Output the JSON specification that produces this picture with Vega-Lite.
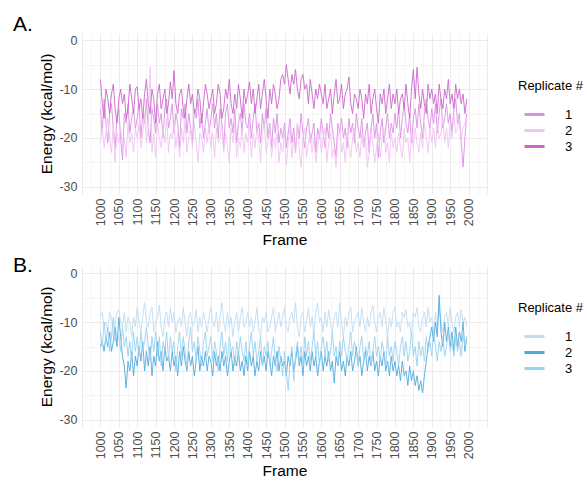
{
"$schema":"https://vega.github.io/schema/vega-lite/v6.json",
"padding":{"left":12,"top":14,"right":0,"bottom":0},
"spacing":6,
"config":{"view":{"stroke":null},"font":"Liberation Sans",
"axis":{"domain":false,"ticks":false,"gridColor":"#EBEBEB","labelColor":"#4D4D4D","labelFontSize":12.5,"titleFontSize":15.5,"titleFontWeight":"normal","titleColor":"black","labelFont":"Liberation Sans","titleFont":"Liberation Sans"},
"legend":{"titleFontSize":13,"titleFontWeight":"normal","titleColor":"black","labelFontSize":13,"labelColor":"black","symbolType":"M-1.5,0H1.5","symbolStrokeWidth":3,"symbolSize":178,"labelOffset":22,"symbolOffset":8,"titlePadding":13,"rowPadding":0,"padding":0,"symbolOpacity":1},
"title":{"fontSize":21,"fontWeight":"normal","color":"black","anchor":"start","frame":"bounds","baseline":"alphabetic","font":"Liberation Sans"}},
"data":{"values":[
{"f":1000,"a1":-14,"a2":-21,"a3":-8,"b1":-9,"b2":-15,"b3":-12},
{"f":1005,"a1":-19,"a2":-18,"a3":-13,"b1":-8,"b2":-14,"b3":-15},
{"f":1010,"a1":-12,"a2":-22,"a3":-16,"b1":-11,"b2":-16,"b3":-10},
{"f":1015,"a1":-17,"a2":-19,"a3":-10,"b1":-10,"b2":-13,"b3":-14},
{"f":1020,"a1":-21,"a2":-16,"a3":-12,"b1":-12,"b2":-15,"b3":-11},
{"f":1025,"a1":-15,"a2":-20,"a3":-15,"b1":-8,"b2":-12,"b3":-16},
{"f":1030,"a1":-13,"a2":-23,"a3":-11,"b1":-9,"b2":-16,"b3":-13},
{"f":1035,"a1":-18,"a2":-17,"a3":-9,"b1":-13,"b2":-14,"b3":-9},
{"f":1040,"a1":-22,"a2":-25,"a3":-14,"b1":-10,"b2":-11,"b3":-14},
{"f":1045,"a1":-16,"a2":-19,"a3":-17,"b1":-8,"b2":-15,"b3":-12},
{"f":1050,"a1":-14,"a2":-21,"a3":-12,"b1":-7.5,"b2":-9,"b3":-13},
{"f":1055,"a1":-20,"a2":-18,"a3":-10,"b1":-10,"b2":-13,"b3":-16},
{"f":1060,"a1":-24.5,"a2":-22,"a3":-13,"b1":-11,"b2":-17,"b3":-11},
{"f":1065,"a1":-15,"a2":-20,"a3":-11,"b1":-8,"b2":-19,"b3":-15},
{"f":1070,"a1":-17,"a2":-24,"a3":-16,"b1":-12,"b2":-23.5,"b3":-13},
{"f":1075,"a1":-13,"a2":-17,"a3":-14,"b1":-9,"b2":-18,"b3":-17},
{"f":1080,"a1":-19,"a2":-21,"a3":-9,"b1":-10,"b2":-20,"b3":-14},
{"f":1085,"a1":-16,"a2":-19,"a3":-12,"b1":-13,"b2":-16,"b3":-18},
{"f":1090,"a1":-14,"a2":-23,"a3":-15,"b1":-9,"b2":-21,"b3":-12},
{"f":1095,"a1":-18,"a2":-18,"a3":-10,"b1":-11,"b2":-17,"b3":-16},
{"f":1100,"a1":-16,"a2":-20,"a3":-9.5,"b1":-7,"b2":-19,"b3":-13},
{"f":1105,"a1":-13,"a2":-17,"a3":-14,"b1":-10,"b2":-15,"b3":-17},
{"f":1110,"a1":-20,"a2":-22,"a3":-12,"b1":-12,"b2":-18,"b3":-12},
{"f":1115,"a1":-15,"a2":-19,"a3":-16,"b1":-9,"b2":-14,"b3":-16},
{"f":1120,"a1":-17,"a2":-15,"a3":-11,"b1":-6,"b2":-20,"b3":-14},
{"f":1125,"a1":-12,"a2":-21,"a3":-8,"b1":-10,"b2":-16,"b3":-11},
{"f":1130,"a1":-18,"a2":-18,"a3":-13,"b1":-11,"b2":-19,"b3":-15},
{"f":1135,"a1":-21,"a2":-5.5,"a3":-15,"b1":-8,"b2":-15,"b3":-18},
{"f":1140,"a1":-14,"a2":-23,"a3":-10,"b1":-7,"b2":-21,"b3":-13},
{"f":1145,"a1":-16,"a2":-19,"a3":-12,"b1":-12,"b2":-17,"b3":-16},
{"f":1150,"a1":-19,"a2":-24,"a3":-17,"b1":-10,"b2":-19,"b3":-12},
{"f":1155,"a1":-13,"a2":-17,"a3":-11,"b1":-9,"b2":-14,"b3":-17},
{"f":1160,"a1":-17,"a2":-20,"a3":-9,"b1":-6.5,"b2":-18,"b3":-13},
{"f":1165,"a1":-15,"a2":-22,"a3":-14,"b1":-11,"b2":-16,"b3":-19},
{"f":1170,"a1":-20,"a2":-18,"a3":-12,"b1":-13,"b2":-20,"b3":-14},
{"f":1175,"a1":-14,"a2":-21,"a3":-10,"b1":-9,"b2":-15,"b3":-16},
{"f":1180,"a1":-12,"a2":-16,"a3":-15,"b1":-8,"b2":-18,"b3":-12},
{"f":1185,"a1":-18,"a2":-23,"a3":-13,"b1":-11,"b2":-17,"b3":-18},
{"f":1190,"a1":-16,"a2":-19,"a3":-8.5,"b1":-7,"b2":-20,"b3":-13},
{"f":1195,"a1":-13,"a2":-20,"a3":-12,"b1":-10,"b2":-16,"b3":-16},
{"f":1200,"a1":-19,"a2":-17,"a3":-6.2,"b1":-8,"b2":-19,"b3":-14},
{"f":1205,"a1":-15,"a2":-22,"a3":-13,"b1":-12,"b2":-17,"b3":-20},
{"f":1210,"a1":-17,"a2":-19,"a3":-15,"b1":-10,"b2":-21,"b3":-15},
{"f":1215,"a1":-22,"a2":-24,"a3":-11,"b1":-9,"b2":-16,"b3":-12},
{"f":1220,"a1":-14,"a2":-18,"a3":-10,"b1":-11,"b2":-19,"b3":-17},
{"f":1225,"a1":-16,"a2":-21,"a3":-14,"b1":-7,"b2":-15,"b3":-13},
{"f":1230,"a1":-13,"a2":-16,"a3":-16,"b1":-10,"b2":-18,"b3":-16},
{"f":1235,"a1":-19,"a2":-23,"a3":-12,"b1":-13,"b2":-20,"b3":-19},
{"f":1240,"a1":-15,"a2":-20,"a3":-9,"b1":-9,"b2":-16,"b3":-14},
{"f":1245,"a1":-18,"a2":-18,"a3":-13,"b1":-8,"b2":-19,"b3":-11},
{"f":1250,"a1":-21,"a2":-22,"a3":-11,"b1":-11,"b2":-17,"b3":-16},
{"f":1255,"a1":-14,"a2":-17,"a3":-15,"b1":-10,"b2":-21,"b3":-14},
{"f":1260,"a1":-16,"a2":-21,"a3":-14,"b1":-7.5,"b2":-18,"b3":-18},
{"f":1265,"a1":-12,"a2":-25,"a3":-10,"b1":-12,"b2":-15,"b3":-13},
{"f":1270,"a1":-18,"a2":-19,"a3":-12,"b1":-9,"b2":-20,"b3":-16},
{"f":1275,"a1":-15,"a2":-20,"a3":-17,"b1":-11,"b2":-17,"b3":-19},
{"f":1280,"a1":-20,"a2":-23,"a3":-13,"b1":-8,"b2":-19,"b3":-14},
{"f":1285,"a1":-17,"a2":-18,"a3":-9,"b1":-10,"b2":-16,"b3":-12},
{"f":1290,"a1":-14,"a2":-21,"a3":-11,"b1":-12,"b2":-20,"b3":-17},
{"f":1295,"a1":-19,"a2":-17,"a3":-14,"b1":-9,"b2":-17,"b3":-15},
{"f":1300,"a1":-16,"a2":-22,"a3":-12,"b1":-7,"b2":-18,"b3":-13},
{"f":1305,"a1":-13,"a2":-19,"a3":-10,"b1":-10,"b2":-21,"b3":-18},
{"f":1310,"a1":-18,"a2":-24,"a3":-15,"b1":-11,"b2":-16,"b3":-14},
{"f":1315,"a1":-15,"a2":-18,"a3":-13,"b1":-8,"b2":-19,"b3":-16},
{"f":1320,"a1":-20,"a2":-21,"a3":-9,"b1":-12,"b2":-17,"b3":-20},
{"f":1325,"a1":-14,"a2":-20,"a3":-11,"b1":-9,"b2":-20,"b3":-15},
{"f":1330,"a1":-17,"a2":-17,"a3":-16,"b1":-6,"b2":-16,"b3":-12},
{"f":1335,"a1":-22,"a2":-23,"a3":-14,"b1":-10,"b2":-19,"b3":-17},
{"f":1340,"a1":-15,"a2":-19,"a3":-10,"b1":-12,"b2":-17,"b3":-14},
{"f":1345,"a1":-13,"a2":-22,"a3":-12,"b1":-8,"b2":-21,"b3":-18},
{"f":1350,"a1":-18,"a2":-25,"a3":-8,"b1":-11,"b2":-18,"b3":-13},
{"f":1355,"a1":-16,"a2":-18,"a3":-13,"b1":-9,"b2":-16,"b3":-16},
{"f":1360,"a1":-19,"a2":-21,"a3":-15,"b1":-13,"b2":-20,"b3":-15},
{"f":1365,"a1":-14,"a2":-17,"a3":-11,"b1":-10,"b2":-17,"b3":-19},
{"f":1370,"a1":-21,"a2":-24,"a3":-14,"b1":-8,"b2":-19,"b3":-14},
{"f":1375,"a1":-17,"a2":-20,"a3":-9,"b1":-12,"b2":-16,"b3":-17},
{"f":1380,"a1":-15,"a2":-22,"a3":-12,"b1":-9,"b2":-20,"b3":-13},
{"f":1385,"a1":-19,"a2":-18,"a3":-16,"b1":-7,"b2":-18,"b3":-16},
{"f":1390,"a1":-13,"a2":-23,"a3":-10,"b1":-11,"b2":-21,"b3":-18},
{"f":1395,"a1":-17,"a2":-19,"a3":-13,"b1":-10,"b2":-17,"b3":-14},
{"f":1400,"a1":-18,"a2":-21,"a3":-11,"b1":-8,"b2":-20,"b3":-19},
{"f":1405,"a1":-15,"a2":-17,"a3":-8.5,"b1":-11,"b2":-16,"b3":-15},
{"f":1410,"a1":-20,"a2":-24,"a3":-13,"b1":-9,"b2":-19,"b3":-12},
{"f":1415,"a1":-16,"a2":-19,"a3":-10,"b1":-12,"b2":-17,"b3":-17},
{"f":1420,"a1":-13,"a2":-22,"a3":-15,"b1":-10,"b2":-21,"b3":-14},
{"f":1425,"a1":-19,"a2":-18,"a3":-12,"b1":-7,"b2":-18,"b3":-18},
{"f":1430,"a1":-17,"a2":-20,"a3":-9,"b1":-11,"b2":-20,"b3":-16},
{"f":1435,"a1":-21,"a2":-25,"a3":-14,"b1":-13,"b2":-16,"b3":-13},
{"f":1440,"a1":-15,"a2":-19,"a3":-11,"b1":-9,"b2":-19,"b3":-19},
{"f":1445,"a1":-18,"a2":-17,"a3":-8,"b1":-10,"b2":-17,"b3":-15},
{"f":1450,"a1":-14,"a2":-23,"a3":-12,"b1":-8,"b2":-20,"b3":-17},
{"f":1455,"a1":-20,"a2":-21,"a3":-16,"b1":-12,"b2":-16,"b3":-14},
{"f":1460,"a1":-17,"a2":-18,"a3":-10,"b1":-11,"b2":-18,"b3":-19},
{"f":1465,"a1":-22,"a2":-24,"a3":-13,"b1":-9,"b2":-21,"b3":-16},
{"f":1470,"a1":-16,"a2":-20,"a3":-9,"b1":-7,"b2":-17,"b3":-13},
{"f":1475,"a1":-19,"a2":-22,"a3":-11,"b1":-12,"b2":-19,"b3":-18},
{"f":1480,"a1":-15,"a2":-19,"a3":-14,"b1":-10,"b2":-16,"b3":-20},
{"f":1485,"a1":-21,"a2":-25,"a3":-12,"b1":-8,"b2":-20,"b3":-15},
{"f":1490,"a1":-18,"a2":-21,"a3":-8,"b1":-11,"b2":-17,"b3":-18},
{"f":1495,"a1":-20,"a2":-23,"a3":-7,"b1":-9,"b2":-19,"b3":-21},
{"f":1500,"a1":-17,"a2":-19,"a3":-9,"b1":-7,"b2":-18,"b3":-16},
{"f":1505,"a1":-22,"a2":-25.5,"a3":-5,"b1":-11,"b2":-21,"b3":-20},
{"f":1510,"a1":-19,"a2":-21,"a3":-8,"b1":-12,"b2":-17,"b3":-24},
{"f":1515,"a1":-16,"a2":-18,"a3":-11,"b1":-9,"b2":-19,"b3":-18},
{"f":1520,"a1":-21,"a2":-24,"a3":-7,"b1":-8,"b2":-16,"b3":-15},
{"f":1525,"a1":-18,"a2":-20,"a3":-9,"b1":-10,"b2":-20,"b3":-22},
{"f":1530,"a1":-23,"a2":-23,"a3":-6,"b1":-6,"b2":-18,"b3":-17},
{"f":1535,"a1":-17,"a2":-17,"a3":-10,"b1":-11,"b2":-15,"b3":-14},
{"f":1540,"a1":-20,"a2":-22,"a3":-12,"b1":-13,"b2":-19,"b3":-18},
{"f":1545,"a1":-15,"a2":-26,"a3":-8,"b1":-9,"b2":-17,"b3":-15},
{"f":1550,"a1":-19,"a2":-20,"a3":-7,"b1":-8,"b2":-21,"b3":-19},
{"f":1555,"a1":-22,"a2":-18,"a3":-10,"b1":-12,"b2":-16,"b3":-13},
{"f":1560,"a1":-18,"a2":-24,"a3":-9,"b1":-10,"b2":-19,"b3":-17},
{"f":1565,"a1":-16,"a2":-21,"a3":-13,"b1":-7,"b2":-17,"b3":-14},
{"f":1570,"a1":-21,"a2":-19,"a3":-8,"b1":-11,"b2":-20,"b3":-18},
{"f":1575,"a1":-19,"a2":-23,"a3":-11,"b1":-9,"b2":-16,"b3":-15},
{"f":1580,"a1":-17,"a2":-20,"a3":-14,"b1":-12,"b2":-19,"b3":-12},
{"f":1585,"a1":-23,"a2":-25,"a3":-10,"b1":-8,"b2":-17,"b3":-17},
{"f":1590,"a1":-18,"a2":-22,"a3":-12,"b1":-6,"b2":-21,"b3":-14},
{"f":1595,"a1":-20,"a2":-19,"a3":-9,"b1":-10,"b2":-18,"b3":-19},
{"f":1600,"a1":-16,"a2":-23,"a3":-11,"b1":-9,"b2":-16,"b3":-15},
{"f":1605,"a1":-19,"a2":-20,"a3":-13,"b1":-12,"b2":-20,"b3":-13},
{"f":1610,"a1":-22,"a2":-18,"a3":-9,"b1":-8,"b2":-17,"b3":-17},
{"f":1615,"a1":-17,"a2":-25,"a3":-14,"b1":-11,"b2":-19,"b3":-14},
{"f":1620,"a1":-20,"a2":-21,"a3":-12,"b1":-7.5,"b2":-16,"b3":-18},
{"f":1625,"a1":-15,"a2":-19,"a3":-10,"b1":-10,"b2":-20,"b3":-16},
{"f":1630,"a1":-18,"a2":-24,"a3":-15,"b1":-12,"b2":-18,"b3":-12},
{"f":1635,"a1":-21,"a2":-22,"a3":-11,"b1":-9,"b2":-22.5,"b3":-17},
{"f":1640,"a1":-24,"a2":-26,"a3":-8,"b1":-8,"b2":-17,"b3":-15},
{"f":1645,"a1":-17,"a2":-20,"a3":-13,"b1":-11,"b2":-19,"b3":-19},
{"f":1650,"a1":-19,"a2":-18,"a3":-12,"b1":-6,"b2":-16,"b3":-14},
{"f":1655,"a1":-16,"a2":-23,"a3":-9,"b1":-10,"b2":-20,"b3":-17},
{"f":1660,"a1":-20,"a2":-21,"a3":-14,"b1":-13,"b2":-18,"b3":-13},
{"f":1665,"a1":-18,"a2":-25,"a3":-11,"b1":-9,"b2":-21,"b3":-16},
{"f":1670,"a1":-22,"a2":-19,"a3":-10,"b1":-11,"b2":-17,"b3":-18},
{"f":1675,"a1":-16,"a2":-22,"a3":-7.5,"b1":-8,"b2":-19,"b3":-15},
{"f":1680,"a1":-19,"a2":-24,"a3":-13,"b1":-7,"b2":-16,"b3":-12},
{"f":1685,"a1":-17,"a2":-20,"a3":-15,"b1":-12,"b2":-20,"b3":-17},
{"f":1690,"a1":-21,"a2":-18,"a3":-11,"b1":-10,"b2":-18,"b3":-14},
{"f":1695,"a1":-15,"a2":-23,"a3":-12,"b1":-9,"b2":-15,"b3":-16},
{"f":1700,"a1":-18,"a2":-21,"a3":-14,"b1":-8,"b2":-19,"b3":-19},
{"f":1705,"a1":-20,"a2":-24,"a3":-10,"b1":-11,"b2":-17,"b3":-15},
{"f":1710,"a1":-16,"a2":-19,"a3":-12,"b1":-7,"b2":-21,"b3":-13},
{"f":1715,"a1":-22,"a2":-22,"a3":-16,"b1":-10,"b2":-18,"b3":-18},
{"f":1720,"a1":-19,"a2":-20,"a3":-11,"b1":-12,"b2":-16,"b3":-15},
{"f":1725,"a1":-17,"a2":-26,"a3":-13,"b1":-9,"b2":-20,"b3":-17},
{"f":1730,"a1":-23,"a2":-23,"a3":-9,"b1":-11,"b2":-17,"b3":-14},
{"f":1735,"a1":-18,"a2":-18,"a3":-15,"b1":-8,"b2":-19,"b3":-19},
{"f":1740,"a1":-15,"a2":-21,"a3":-12,"b1":-6.5,"b2":-16,"b3":-16},
{"f":1745,"a1":-20,"a2":-25,"a3":-10,"b1":-10,"b2":-20,"b3":-13},
{"f":1750,"a1":-17,"a2":-22,"a3":-14,"b1":-12,"b2":-18,"b3":-17},
{"f":1755,"a1":-24,"a2":-19,"a3":-17,"b1":-9,"b2":-21,"b3":-15},
{"f":1760,"a1":-19,"a2":-24,"a3":-11,"b1":-8,"b2":-17,"b3":-18},
{"f":1765,"a1":-16,"a2":-20,"a3":-13,"b1":-11,"b2":-19,"b3":-14},
{"f":1770,"a1":-21,"a2":-18,"a3":-10,"b1":-7,"b2":-16,"b3":-16},
{"f":1775,"a1":-18,"a2":-23,"a3":-15,"b1":-10,"b2":-20,"b3":-19},
{"f":1780,"a1":-15,"a2":-21,"a3":-12,"b1":-13,"b2":-18,"b3":-13},
{"f":1785,"a1":-20,"a2":-25,"a3":-9,"b1":-9,"b2":-21,"b3":-17},
{"f":1790,"a1":-17,"a2":-19,"a3":-14,"b1":-11,"b2":-17,"b3":-15},
{"f":1795,"a1":-19,"a2":-22,"a3":-11,"b1":-8,"b2":-20,"b3":-18},
{"f":1800,"a1":-15,"a2":-20,"a3":-13,"b1":-7,"b2":-18,"b3":-14},
{"f":1805,"a1":-18,"a2":-23,"a3":-10,"b1":-11,"b2":-21,"b3":-16},
{"f":1810,"a1":-14,"a2":-19,"a3":-15,"b1":-10,"b2":-19,"b3":-19},
{"f":1815,"a1":-20,"a2":-22,"a3":-12,"b1":-12,"b2":-22,"b3":-15},
{"f":1820,"a1":-16,"a2":-24,"a3":-11,"b1":-8,"b2":-18,"b3":-13},
{"f":1825,"a1":-13,"a2":-18,"a3":-14,"b1":-9,"b2":-21,"b3":-17},
{"f":1830,"a1":-17,"a2":-21,"a3":-9,"b1":-7.5,"b2":-20,"b3":-14},
{"f":1835,"a1":-19,"a2":-20,"a3":-13,"b1":-11,"b2":-23,"b3":-18},
{"f":1840,"a1":-15,"a2":-25,"a3":-16,"b1":-10,"b2":-19,"b3":-16},
{"f":1845,"a1":-21,"a2":-19,"a3":-10,"b1":-13,"b2":-22,"b3":-12},
{"f":1850,"a1":-16,"a2":-22,"a3":-6,"b1":-8,"b2":-20,"b3":-17},
{"f":1855,"a1":-14,"a2":-18,"a3":-12,"b1":-9,"b2":-23,"b3":-15},
{"f":1860,"a1":-18,"a2":-21,"a3":-5.5,"b1":-7,"b2":-21,"b3":-19},
{"f":1865,"a1":-13,"a2":-23,"a3":-11,"b1":-11,"b2":-24,"b3":-14},
{"f":1870,"a1":-17,"a2":-19,"a3":-14,"b1":-12,"b2":-22,"b3":-17},
{"f":1875,"a1":-20,"a2":-22,"a3":-10,"b1":-9,"b2":-24.5,"b3":-15},
{"f":1880,"a1":-15,"a2":-17,"a3":-13,"b1":-8,"b2":-21,"b3":-18},
{"f":1885,"a1":-12,"a2":-20,"a3":-15,"b1":-11,"b2":-18,"b3":-13},
{"f":1890,"a1":-16,"a2":-23,"a3":-9,"b1":-7,"b2":-15,"b3":-16},
{"f":1895,"a1":-18,"a2":-18,"a3":-12,"b1":-10,"b2":-13,"b3":-14},
{"f":1900,"a1":-14,"a2":-21,"a3":-10,"b1":-9,"b2":-11,"b3":-17},
{"f":1905,"a1":-17,"a2":-18,"a3":-13,"b1":-12,"b2":-14,"b3":-12},
{"f":1910,"a1":-13,"a2":-22,"a3":-11,"b1":-8,"b2":-10,"b3":-15},
{"f":1915,"a1":-19,"a2":-17,"a3":-15,"b1":-11,"b2":-13,"b3":-18},
{"f":1920,"a1":-15,"a2":-20,"a3":-9,"b1":-7,"b2":-4.5,"b3":-14},
{"f":1925,"a1":-12,"a2":-19,"a3":-12,"b1":-10,"b2":-12,"b3":-16},
{"f":1930,"a1":-18,"a2":-16,"a3":-14,"b1":-12,"b2":-15,"b3":-13},
{"f":1935,"a1":-16,"a2":-21,"a3":-10,"b1":-9,"b2":-10,"b3":-17},
{"f":1940,"a1":-13,"a2":-18,"a3":-12,"b1":-8,"b2":-14,"b3":-15},
{"f":1945,"a1":-17,"a2":-22,"a3":-8,"b1":-11,"b2":-11,"b3":-12},
{"f":1950,"a1":-15,"a2":-17,"a3":-13,"b1":-7,"b2":-15,"b3":-16},
{"f":1955,"a1":-19,"a2":-20,"a3":-11,"b1":-10,"b2":-12,"b3":-14},
{"f":1960,"a1":-14,"a2":-15,"a3":-14,"b1":-12,"b2":-16,"b3":-17},
{"f":1965,"a1":-12,"a2":-19,"a3":-9,"b1":-9,"b2":-11,"b3":-13},
{"f":1970,"a1":-17,"a2":-18,"a3":-12,"b1":-8,"b2":-15,"b3":-16},
{"f":1975,"a1":-15,"a2":-16,"a3":-10,"b1":-11,"b2":-12,"b3":-14},
{"f":1980,"a1":-21,"a2":-20,"a3":-13,"b1":-7.5,"b2":-14,"b3":-17},
{"f":1985,"a1":-26,"a2":-18,"a3":-11,"b1":-10,"b2":-10,"b3":-12},
{"f":1990,"a1":-20,"a2":-17,"a3":-15,"b1":-9,"b2":-16,"b3":-15},
{"f":1995,"a1":-15,"a2":-16,"a3":-12,"b1":-11,"b2":-13,"b3":-13}
]},
"vconcat":[
{"title":{"text":"A.","dx":-27,"offset":-2},
"width":405,"height":161,
"transform":[{"fold":["a1","a2","a3"],"as":["rep","e"]}],
"mark":{"type":"line","strokeWidth":0.9},
"encoding":{
"x":{"field":"f","type":"quantitative","scale":{"domain":[950,2050],"nice":false,"zero":false},
"axis":{"title":"Frame","values":[950,975,1000,1025,1050,1075,1100,1125,1150,1175,1200,1225,1250,1275,1300,1325,1350,1375,1400,1425,1450,1475,1500,1525,1550,1575,1600,1625,1650,1675,1700,1725,1750,1775,1800,1825,1850,1875,1900,1925,1950,1975,2000,2025,2050],
"labelExpr":"datum.value % 50 === 0 && datum.value >= 1000 && datum.value <= 2000 ? '' + datum.value : ''","labelAngle":-90,"labelAlign":"right","labelBaseline":"middle","labelPadding":4,"titlePadding":7,"labelOverlap":false,"labelFlush":false,"labelBound":false,
"gridWidth":{"condition":{"test":"datum.value % 50 === 0","value":1},"value":0.5}}},
"y":{"field":"e","type":"quantitative","scale":{"domain":[-31.5,1.5],"nice":false,"zero":false},
"axis":{"title":"Energy (kcal/mol)","values":[0,-5,-10,-15,-20,-25,-30],"labelExpr":"datum.value % 10 === 0 ? '' + datum.value : ''","labelPadding":5,"titlePadding":4,"labelOverlap":false,
"gridWidth":{"condition":{"test":"datum.value % 10 === 0","value":1},"value":0.5}}},
"color":{"field":"rep","type":"nominal","scale":{"domain":["a1","a2","a3"],"range":["#DE8FE5","#F2C2F4","#CC66CC"]},
"legend":{"title":"Replicate #","orient":"none","legendX":436,"legendY":47,"rowPadding":0,"labelExpr":"slice(datum.label,1)"}}}},
{"title":{"text":"B.","dx":-27,"offset":-10},
"width":405,"height":161,
"transform":[{"fold":["b1","b2","b3"],"as":["rep","e"]}],
"mark":{"type":"line","strokeWidth":0.9},
"encoding":{
"x":{"field":"f","type":"quantitative","scale":{"domain":[950,2050],"nice":false,"zero":false},
"axis":{"title":"Frame","values":[950,975,1000,1025,1050,1075,1100,1125,1150,1175,1200,1225,1250,1275,1300,1325,1350,1375,1400,1425,1450,1475,1500,1525,1550,1575,1600,1625,1650,1675,1700,1725,1750,1775,1800,1825,1850,1875,1900,1925,1950,1975,2000,2025,2050],
"labelExpr":"datum.value % 50 === 0 && datum.value >= 1000 && datum.value <= 2000 ? '' + datum.value : ''","labelAngle":-90,"labelAlign":"right","labelBaseline":"middle","labelPadding":4,"titlePadding":5,"labelOverlap":false,"labelFlush":false,"labelBound":false,
"gridWidth":{"condition":{"test":"datum.value % 50 === 0","value":1},"value":0.5}}},
"y":{"field":"e","type":"quantitative","scale":{"domain":[-31.5,1.5],"nice":false,"zero":false},
"axis":{"title":"Energy (kcal/mol)","values":[0,-5,-10,-15,-20,-25,-30],"labelExpr":"datum.value % 10 === 0 ? '' + datum.value : ''","labelPadding":5,"titlePadding":4,"labelOverlap":false,
"gridWidth":{"condition":{"test":"datum.value % 10 === 0","value":1},"value":0.5}}},
"color":{"field":"rep","type":"nominal","scale":{"domain":["b1","b2","b3"],"range":["#BFDDF3","#4FA9DE","#98D2EF"]},
"legend":{"title":"Replicate #","orient":"none","legendX":436,"legendY":36,"rowPadding":0,"labelExpr":"slice(datum.label,1)"}}}}
],
"resolve":{"scale":{"color":"independent"},"legend":{"color":"independent"}}
}
